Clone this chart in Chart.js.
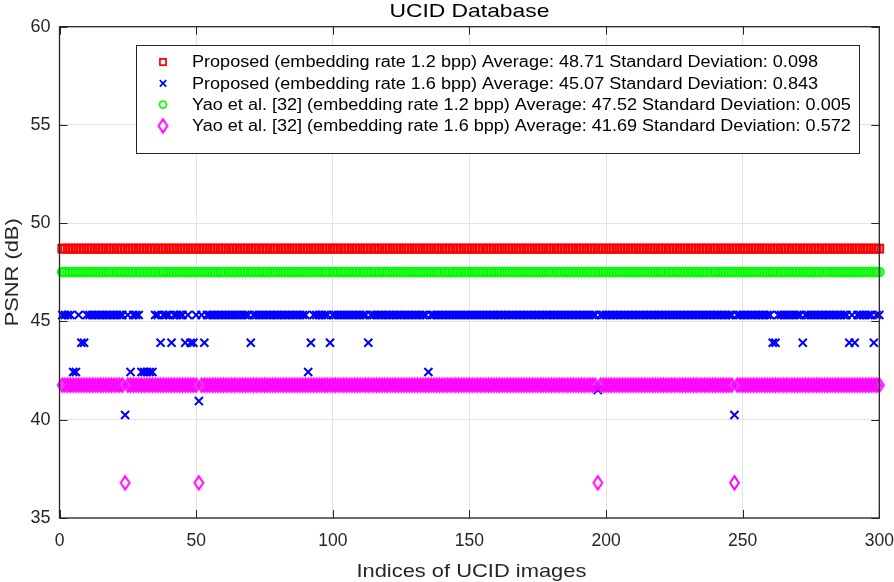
<!DOCTYPE html>
<html>
<head>
<meta charset="utf-8">
<script src="https://cdn.jsdelivr.net/npm/chart.js@4.4.0/dist/chart.umd.min.js"></script>
<style>
  html, body { margin: 0; padding: 0; background: #fff; }
  #wrap { width: 894px; height: 582px; position: relative; }
</style>
</head>
<body>
<div id="wrap"><canvas id="psnrChart"></canvas></div>
<script>
// Image indices run 1..300
const imageCount = 300;

// Axis ticks
const xTicks = [0, 50, 100, 150, 200, 250, 300];
const yTicks = [35, 40, 45, 50, 55, 60];

// PSNR of the typical image for each method (most images sit on this row)
const proposed12Base = 48.71;
const proposed16Base = 45.33;
const yao12Base = 47.52;
const yao16Base = 41.76;

// Images that fall off the typical row: [index, PSNR]
const proposed12Outliers = [];
const proposed16Outliers = [
  [5, 42.43], [6, 42.43], [8, 43.92], [9, 43.92], [24, 40.24], [26, 42.43],
  [30, 42.43], [31, 42.43], [32, 42.43], [33, 42.43], [34, 42.43],
  [37, 43.92], [41, 43.92], [46, 43.92], [48, 43.92], [49, 43.92],
  [51, 40.95], [53, 43.92], [70, 43.92], [91, 42.43], [92, 43.92],
  [99, 43.92], [113, 43.92], [135, 42.43], [197, 41.51], [247, 40.24],
  [261, 43.92], [262, 43.92], [272, 43.92], [289, 43.92], [291, 43.92],
  [298, 43.92]
];
const yao12Outliers = [];
const yao16Outliers = [[24, 36.79], [51, 36.79], [197, 36.79], [247, 36.79]];

const legendLabels = [
  'Proposed (embedding rate 1.2 bpp) Average: 48.71 Standard Deviation: 0.098',
  'Proposed (embedding rate 1.6 bpp) Average: 45.07 Standard Deviation: 0.843',
  'Yao et al. [32] (embedding rate 1.2 bpp) Average: 47.52 Standard Deviation: 0.005',
  'Yao et al. [32] (embedding rate 1.6 bpp) Average: 41.69 Standard Deviation: 0.572'
];

const FONT = '"Liberation Sans", Arial, Helvetica, sans-serif';
const INK = '#262626';

// Build one point per image from the typical value and the listed exceptions
function buildSeries(base, outliers) {
    const pts = [];
    for (let i = 1; i <= imageCount; i++) pts.push({ x: i, y: base });
    outliers.forEach(([i, v]) => { pts[i - 1].y = v; });
    return pts;
}

// MATLAB style diamond is taller than wide, so draw it on a small canvas
function makeDiamond(color, hw, hh, lw) {
    const c = document.createElement('canvas');
    c.width = Math.ceil(2 * hw + 2 * lw);
    c.height = Math.ceil(2 * hh + 2 * lw);
    const g = c.getContext('2d');
    const cx = c.width / 2, cy = c.height / 2;
    g.strokeStyle = color;
    g.lineWidth = lw;
    g.beginPath();
    g.moveTo(cx, cy - hh);
    g.lineTo(cx + hw, cy);
    g.lineTo(cx, cy + hh);
    g.lineTo(cx - hw, cy);
    g.closePath();
    g.stroke();
    return c;
}

const diamond = makeDiamond('#ff00ff', 4.4, 6.6, 2);

const datasets = [
    { label: legendLabels[0], data: buildSeries(proposed12Base, proposed12Outliers),
      pointStyle: 'rect', radius: 5.4, borderWidth: 2, borderColor: '#ff0000', order: 3 },
    { label: legendLabels[1], data: buildSeries(proposed16Base, proposed16Outliers),
      pointStyle: 'crossRot', radius: 5.7, borderWidth: 2, borderColor: '#0000ff', order: 2 },
    { label: legendLabels[2], data: buildSeries(yao12Base, yao12Outliers),
      pointStyle: 'circle', radius: 4.3, borderWidth: 2, borderColor: '#00ff00', order: 1 },
    { label: legendLabels[3], data: buildSeries(yao16Base, yao16Outliers),
      pointStyle: diamond, radius: 5, borderWidth: 2, borderColor: '#ff00ff', order: 0 }
];
datasets.forEach(d => {
    d.backgroundColor = 'rgba(0,0,0,0)';
    d.pointHoverRadius = d.radius;
    d.clip = false;
    d.showLine = false;
});

// text stretched sideways so it covers the same width as in the figure
function stretchedText(ctx, text, x, y, width) {
    const w = ctx.measureText(text).width;
    ctx.save();
    ctx.translate(x, y);
    ctx.scale(width / w, 1);
    ctx.fillText(text, 0, 0);
    ctx.restore();
}

// Box, inward ticks, titles and the legend drawn inside the axes
const matlabFrame = {
    id: 'matlabFrame',
    afterDatasetsDraw(chart) {
        const { ctx, chartArea: a, scales } = chart;
        ctx.save();
        ctx.strokeStyle = INK;
        ctx.lineWidth = 1;
        const tl = 8;
        ctx.beginPath();
        xTicks.forEach(v => {
            const px = Math.round(scales.x.getPixelForValue(v)) + 0.5;
            ctx.moveTo(px, a.bottom); ctx.lineTo(px, a.bottom - tl);
            ctx.moveTo(px, a.top); ctx.lineTo(px, a.top + tl);
        });
        yTicks.forEach(v => {
            const py = Math.round(scales.y.getPixelForValue(v)) + 0.5;
            ctx.moveTo(a.left, py); ctx.lineTo(a.left + tl, py);
            ctx.moveTo(a.right, py); ctx.lineTo(a.right - tl, py);
        });
        ctx.stroke();
        ctx.lineWidth = 1.3;
        ctx.strokeRect(a.left, a.top, a.right - a.left, a.bottom - a.top);

        // titles
        const cx = (a.left + a.right) / 2;
        ctx.textAlign = 'center';
        ctx.textBaseline = 'alphabetic';
        ctx.fillStyle = '#000';
        ctx.font = '18.5px ' + FONT;
        stretchedText(ctx, 'UCID Database', cx, 17, 160);
        ctx.fillStyle = INK;
        ctx.font = '19px ' + FONT;
        stretchedText(ctx, 'Indices of UCID images', cx + 2, 577, 230);
        ctx.save();
        ctx.translate(18, (a.top + a.bottom) / 2);
        ctx.rotate(-Math.PI / 2);
        stretchedText(ctx, 'PSNR (dB)', 0, 0, 108);
        ctx.restore();

        // legend
        const box = { left: 136.5, top: 45.5, right: 859.5, bottom: 153.5 };
        ctx.fillStyle = '#fff';
        ctx.fillRect(box.left, box.top, box.right - box.left, box.bottom - box.top);
        ctx.strokeStyle = INK;
        ctx.lineWidth = 1;
        ctx.strokeRect(box.left, box.top, box.right - box.left, box.bottom - box.top);
        ctx.font = '16px ' + FONT;
        ctx.textAlign = 'left';
        ctx.textBaseline = 'middle';
        const k = 626 / ctx.measureText(legendLabels[0]).width;
        chart.data.datasets.forEach((d, i) => {
            const y = 62 + i * 21.3;
            ctx.save();
            ctx.strokeStyle = d.borderColor;
            ctx.fillStyle = 'rgba(0,0,0,0)';
            ctx.lineWidth = d.borderWidth * 0.85;
            Chart.helpers.drawPoint(ctx, { pointStyle: d.pointStyle, radius: d.radius * 0.8, borderWidth: d.borderWidth }, 163, y);
            ctx.restore();
            ctx.fillStyle = '#000';
            stretchedText(ctx, d.label, 192, y + 1, ctx.measureText(d.label).width * k);
        });
        ctx.restore();
    }
};

new Chart(document.getElementById('psnrChart'), {
    type: 'scatter',
    data: { datasets },
    options: {
        responsive: true,
        maintainAspectRatio: false,
        animation: false,
        events: [],
        layout: { padding: { left: 0, right: 14.7, top: 26.7, bottom: 0 } },
        plugins: { legend: { display: false }, tooltip: { enabled: false }, title: { display: false } },
        scales: {
            x: {
                type: 'linear', min: 0, max: 300,
                afterFit: s => { s.height = 64; s.paddingLeft = 0; s.paddingRight = 0; },
                afterBuildTicks: s => { s.ticks = xTicks.map(v => ({ value: v })); },
                grid: { color: '#e3e3e3', drawTicks: false },
                border: { display: false },
                ticks: { color: INK, font: { family: FONT, size: 17.5 }, padding: 13, maxRotation: 0 }
            },
            y: {
                type: 'linear', min: 35, max: 60,
                afterFit: s => { s.width = 59.5; s.paddingTop = 0; s.paddingBottom = 0; },
                afterBuildTicks: s => { s.ticks = yTicks.map(v => ({ value: v })); },
                grid: { color: '#e3e3e3', drawTicks: false },
                border: { display: false },
                ticks: { color: INK, font: { family: FONT, size: 18 }, padding: 9 }
            }
        }
    },
    plugins: [matlabFrame]
});
</script>
</body>
</html>
